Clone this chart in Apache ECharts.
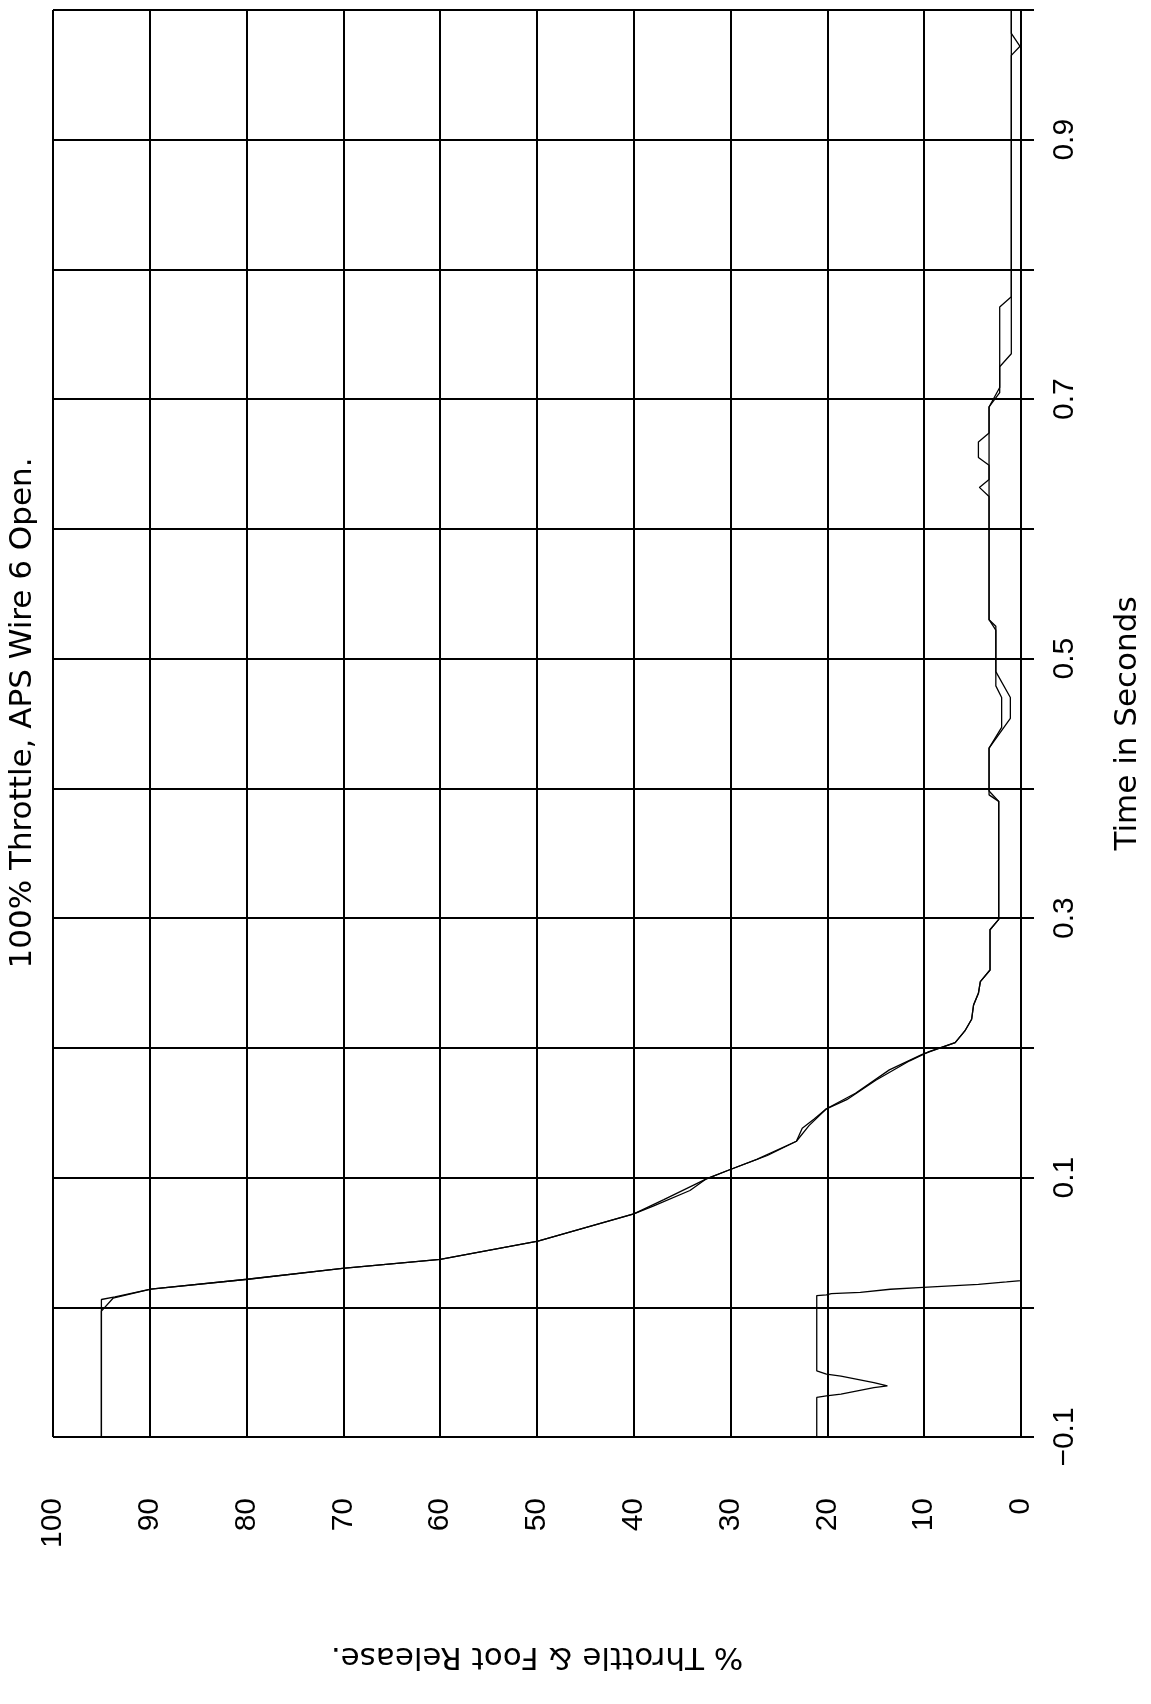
<!DOCTYPE html>
<html>
<head>
<meta charset="utf-8">
<script src="https://cdn.jsdelivr.net/npm/echarts@6/dist/echarts.min.js"></script>
<style>
html,body{margin:0;padding:0;background:#fff;}
#chart{width:1151px;height:1704px;}
</style>
</head>
<body>
<div id="chart"></div>
<script>
// ---- tick labels ----
const valueTickValues = [0,10,20,30,40,50,60,70,80,90,100];
const valueTickLabels = ['0','10','20','30','40','50','60','70','80','90','100'];
const timeTickValues = [-0.1,0.1,0.3,0.5,0.7,0.9];
const timeTickLabels = ['\u22120.1','0.1','0.3','0.5','0.7','0.9'];

// ---- series: throttle sensor A (time s, % value) ----
const throttleATime = [-0.1,-0.003,0.007,0.014,0.0216,0.030,0.037,0.051,0.072,0.083,0.099,0.106,0.114,0.128,0.140,0.153,0.165,0.183,0.195,0.204,0.213,0.222,0.233,0.242,0.251,0.260,0.291,0.299,0.390,0.398,0.431,0.447,0.470,0.479,0.522,0.530,0.625,0.632,0.638,0.649,0.655,0.667,0.674,0.694,0.709,0.725,0.735,0.965,0.972,0.982,1.0];
const throttleAValue = [95,95,93.8,89.9,79.9,70.1,60.0,49.9,40.0,36.9,32.5,30.1,27.3,23.2,21.9,20.1,17.1,13.6,10.2,6.8,5.8,5.1,4.9,4.4,4.2,3.2,3.2,2.3,2.3,3.3,3.3,2.0,2.0,2.6,2.6,3.3,3.3,4.3,3.3,3.3,4.4,4.4,3.3,3.3,2.2,2.2,1.0,1.0,0.1,1.0,1.0];

// ---- series: throttle sensor B ----
const throttleBTime = [-0.1,0.006,0.008,0.014,0.0216,0.030,0.037,0.051,0.072,0.078,0.090,0.099,0.106,0.117,0.128,0.138,0.145,0.153,0.160,0.175,0.190,0.197,0.204,0.213,0.222,0.233,0.242,0.251,0.260,0.291,0.299,0.390,0.395,0.431,0.454,0.470,0.490,0.525,0.530,0.694,0.705,0.771,0.779,1.0];
const throttleBValue = [95,95,93.6,89.9,79.9,70.1,60.0,49.9,40.0,38.0,34.2,32.5,30.1,26.2,23.2,22.6,21.4,20.1,18.0,15.0,11.5,9.5,6.8,5.8,5.1,4.9,4.4,4.2,3.2,3.2,2.3,2.3,3.3,3.3,1.1,1.1,2.6,2.6,3.3,3.3,2.2,2.2,1.0,1.0];

// ---- series: foot release ----
const footTime = [-0.1,-0.0695,-0.0683,-0.067,-0.0619,-0.0606,-0.058,-0.053,-0.0516,-0.049,0.009,0.0095,0.0105,0.0115,0.0139,0.0153,0.0177,0.0195,0.0205,1.0];
const footValue = [21.1,21.1,20.1,18.6,15.2,13.8,15.2,18.6,20.1,21.1,21.1,20.1,19.6,16.6,13.5,10.1,4.4,1.5,0,0];

function pairs(ts, vs){ return ts.map((t,i)=>[vs[i], t]); }

const tickFont = {fontFamily:'Liberation Sans', fontSize:30, color:'#000'};
const nameFont = {fontFamily:'DejaVu Sans', fontSize:31, color:'#000'};
const black2 = {color:'#000', width:2};

const chart = echarts.init(document.getElementById('chart'), null, {renderer:'canvas'});
chart.setOption({
  backgroundColor:'#fff',
  animation:false,
  grid:{left:53, right:125, top:10, bottom:267},
  xAxis:{
    type:'value', min:0, max:100, interval:10, inverse:true, position:'bottom',
    axisLine:{show:true, lineStyle:black2},
    axisTick:{show:true, length:21, lineStyle:black2},
    splitLine:{show:true, lineStyle:black2},
    axisLabel:Object.assign({rotate:90, margin:61, formatter:function(v){
      const i = valueTickValues.findIndex(x=>Math.abs(x-v)<1e-6);
      return i>=0 ? valueTickLabels[i] : '';
    }}, tickFont),
    name:'% Throttle & Foot Release.', nameLocation:'middle', nameRotate:180, nameGap:204,
    nameTextStyle:nameFont
  },
  yAxis:{
    type:'value', min:-0.1, max:1.0, interval:0.1, position:'right',
    axisLine:{show:true, lineStyle:black2},
    axisTick:{show:true, length:13, lineStyle:black2},
    splitLine:{show:true, lineStyle:black2},
    axisLabel:Object.assign({rotate:90, margin:29, formatter:function(v){
      const i = timeTickValues.findIndex(x=>Math.abs(x-v)<1e-6);
      return i>=0 ? timeTickLabels[i] : '';
    }}, tickFont),
    name:'Time in Seconds', nameLocation:'middle', nameRotate:90, nameGap:91,
    nameTextStyle:nameFont
  },
  graphic:[{
    type:'text', x:23, y:713, rotation:Math.PI/2,
    style:{text:'100% Throttle, APS Wire 6 Open.', font:'31px "DejaVu Sans"', fill:'#000', align:'center', verticalAlign:'middle'}
  }],
  series:[
    {type:'line', data:pairs(throttleATime, throttleAValue), showSymbol:false, symbol:'none', lineStyle:{color:'#000', width:1.3}},
    {type:'line', data:pairs(throttleBTime, throttleBValue), showSymbol:false, symbol:'none', lineStyle:{color:'#000', width:1.3}},
    {type:'line', data:pairs(footTime, footValue), showSymbol:false, symbol:'none', lineStyle:{color:'#000', width:1.3}}
  ]
});
</script>
</body>
</html>
